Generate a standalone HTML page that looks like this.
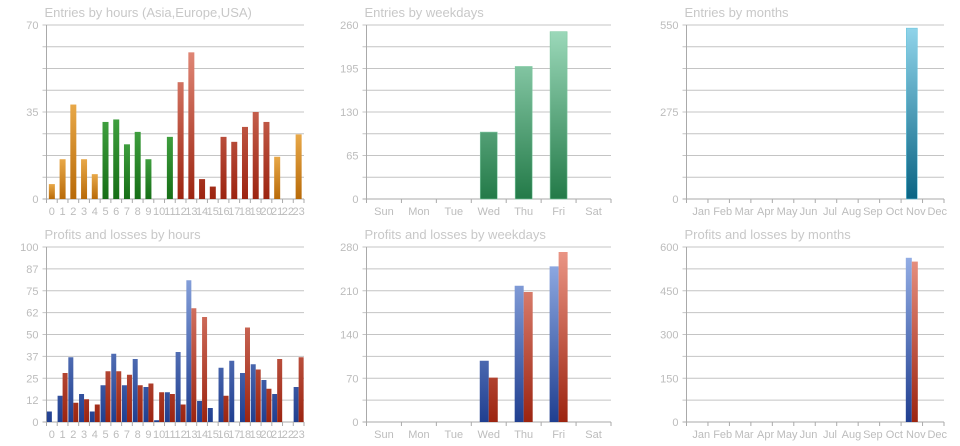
<!DOCTYPE html>
<html><head><meta charset="utf-8">
<style>
html,body{margin:0;padding:0;background:#fff;}
svg{display:block;font-family:"Liberation Sans",sans-serif;}
.title{fill:#c8c8c8;font-size:13px;}
.tick{fill:#bcbcbc;font-size:11px;}
.grid{stroke:#c4c4c4;stroke-width:1;}
.axis{stroke:#aaa;stroke-width:1;}
</style></head>
<body>
<svg id="chart" width="960" height="446" viewBox="0 0 960 446" xmlns="http://www.w3.org/2000/svg">
<defs>
<linearGradient id="gOrange" x1="0" y1="1" x2="0" y2="0"><stop offset="0" stop-color="#b86a08"/><stop offset="1" stop-color="#e8a848"/></linearGradient>
<linearGradient id="gGreen" x1="0" y1="1" x2="0" y2="0"><stop offset="0" stop-color="#166e16"/><stop offset="1" stop-color="#3e9e3e"/></linearGradient>
<linearGradient id="gRed" gradientUnits="userSpaceOnUse" x1="0" y1="199" x2="0" y2="25"><stop offset="0" stop-color="#9c2410"/><stop offset="1" stop-color="#ec9888"/></linearGradient>
<linearGradient id="gBlue" gradientUnits="userSpaceOnUse" x1="0" y1="422" x2="0" y2="247"><stop offset="0" stop-color="#203f90"/><stop offset="1" stop-color="#9ab4ea"/></linearGradient>
<linearGradient id="gRed2" gradientUnits="userSpaceOnUse" x1="0" y1="422" x2="0" y2="247"><stop offset="0" stop-color="#9c2410"/><stop offset="1" stop-color="#ec9888"/></linearGradient>
<linearGradient id="gMint" gradientUnits="userSpaceOnUse" x1="0" y1="199" x2="0" y2="25"><stop offset="0" stop-color="#237a48"/><stop offset="1" stop-color="#a0dcbe"/></linearGradient>
<linearGradient id="gTeal" x1="0" y1="1" x2="0" y2="0"><stop offset="0" stop-color="#0a6484"/><stop offset="1" stop-color="#90d4ea"/></linearGradient>
</defs>
</svg>
<script>
// ---- data ----
const hourLabels = ['0','1','2','3','4','5','6','7','8','9','10','11','12','13','14','15','16','17','18','19','20','21','22','23'];
const hourEntries = [6,16,38,16,10,31,32,22,27,16,0,25,47,59,8,5,25,23,29,35,31,17,0,26];
const hourRegion = ['o','o','o','o','o','g','g','g','g','g','g','g','r','r','r','r','r','r','r','r','r','o','o','o'];
const hourProfits = [6,15,37,16,6,21,39,21,36,20,1,17,40,81,12,8,31,35,28,33,24,16,0,20];
const hourLosses = [0,28,11,13,10,29,29,27,21,22,17,16,10,65,60,0,15,0,54,30,19,36,0,37];
const dayLabels = ['Sun','Mon','Tue','Wed','Thu','Fri','Sat'];
const dayEntries = [0,0,0,100,198,250,0];
const dayProfits = [0,0,0,98,218,249,0];
const dayLosses = [0,0,0,71,208,272,0];
const monthLabels = ['Jan','Feb','Mar','Apr','May','Jun','Jul','Aug','Sep','Oct','Nov','Dec'];
const monthEntries = [0,0,0,0,0,0,0,0,0,0,540,0];
const monthProfits = [0,0,0,0,0,0,0,0,0,0,563,0];
const monthLosses = [0,0,0,0,0,0,0,0,0,0,550,0];
const ticksHourEntries = ['0','35','70'];
const ticksHourPL = ['0','12','25','37','50','62','75','87','100'];
const ticksDayEntries = ['0','65','130','195','260'];
const ticksDayPL = ['0','70','140','210','280'];
const ticksMonthEntries = ['0','275','550'];
const ticksMonthPL = ['0','150','300','450','600'];

const svg = document.getElementById('chart');
const NS = 'http://www.w3.org/2000/svg';
function mk(tag, attrs, parent){const e=document.createElementNS(NS,tag);for(const k in attrs)e.setAttribute(k,attrs[k]);(parent||svg).appendChild(e);return e;}

function chart(c){
  const g = mk('g',{});
  
  
  const yScale = v => c.y1 - (v / c.max) * (c.y1 - c.y0);
  const n = c.labels.length, slot = (c.x1 - c.x0) / n;
  const t = mk('text',{x:c.x0-2,y:c.y0-8,class:'title'},g); t.textContent=c.title;
  
  
  for(let i=0;i<=8;i++){
    const y = c.y1 - i*(c.y1-c.y0)/8;
    const l = mk('line',{x1:c.x0-4,x2:c.x1,y1:y,y2:y,class:i==0?'axis':'grid'},g);
    
    
  }
  const step = 8/(c.ticks.length-1);
  c.ticks.forEach((tk,i)=>{
    const y = c.y1 - i*step*(c.y1-c.y0)/8;
    const tx = mk('text',{x:c.x0-8,y:y+4,'text-anchor':'end',class:'tick'},g); tx.textContent=tk;
    
    
  });
  mk('line',{x1:c.x0,x2:c.x0,y1:c.y0,y2:c.y1+4,class:'axis'},g);
  for(let i=0;i<=n;i++){
    if(c.tickEvery && i%1) continue;
    const x=c.x0+i*slot;
    mk('line',{x1:x,x2:x,y1:c.y1,y2:c.y1+4,class:'axis'},g);
  }
  c.labels.forEach((lb,i)=>{
    const tx = mk('text',{x:c.x0+(i+0.5)*slot+(c.lblOff||0),y:c.y1+16,'text-anchor':'middle',class:'tick'},g); tx.textContent=lb;
    
    
  });
  c.series.forEach((s,si)=>{
    s.values.forEach((v,i)=>{
      if(!v) return;
      const bw = c.bw;
      const cx = c.x0+(i+0.5)*slot;
      const x = c.series.length==1 ? cx-bw/2 : cx - bw + si*bw;
      const y = yScale(v);
      const fill = typeof s.fill==='function'? s.fill(i): s.fill;
      const r = mk('rect',{x:x,y:y,width:bw,height:c.y1-y,fill:fill,stroke:s.stroke||'none','stroke-width':0.6},g);
      
      
    });
  });
}
const regionFill = {o:'url(#gOrange)',g:'url(#gGreen)',r:'url(#gRed)'};
chart({name:'entries-by-hours-chart',title:'Entries by hours (Asia,Europe,USA)',x0:46.5,x1:304,y0:25,y1:199,max:70,labels:hourLabels,ticks:ticksHourEntries,bw:6,
  series:[{key:'entries',values:hourEntries,fill:i=>regionFill[hourRegion[i]]}]});
chart({name:'entries-by-weekdays-chart',title:'Entries by weekdays',x0:366.5,x1:611,y0:25,y1:199,max:260,labels:dayLabels,ticks:ticksDayEntries,bw:17,
  series:[{key:'entries',values:dayEntries,fill:'url(#gMint)',stroke:'#7cc8a0'}]});
chart({name:'entries-by-months-chart',title:'Entries by months',x0:686.5,x1:944,y0:25,y1:199,max:550,labels:monthLabels,ticks:ticksMonthEntries,bw:11,lblOff:4,
  series:[{key:'entries',values:monthEntries,fill:'url(#gTeal)',stroke:'#6cc4dc'}]});
chart({name:'profits-losses-by-hours-chart',title:'Profits and losses by hours',x0:46.5,x1:304,y0:247,y1:422,max:100,labels:hourLabels,ticks:ticksHourPL,bw:5,
  series:[{key:'profit',values:hourProfits,fill:'url(#gBlue)'},{key:'loss',values:hourLosses,fill:'url(#gRed2)'}]});
chart({name:'profits-losses-by-weekdays-chart',title:'Profits and losses by weekdays',x0:366.5,x1:611,y0:247,y1:422,max:280,labels:dayLabels,ticks:ticksDayPL,bw:9,
  series:[{key:'profit',values:dayProfits,fill:'url(#gBlue)'},{key:'loss',values:dayLosses,fill:'url(#gRed2)'}]});
chart({name:'profits-losses-by-months-chart',title:'Profits and losses by months',x0:686.5,x1:944,y0:247,y1:422,max:600,labels:monthLabels,ticks:ticksMonthPL,bw:6,lblOff:4,
  series:[{key:'profit',values:monthProfits,fill:'url(#gBlue)'},{key:'loss',values:monthLosses,fill:'url(#gRed2)'}]});
</script>
</body></html>
